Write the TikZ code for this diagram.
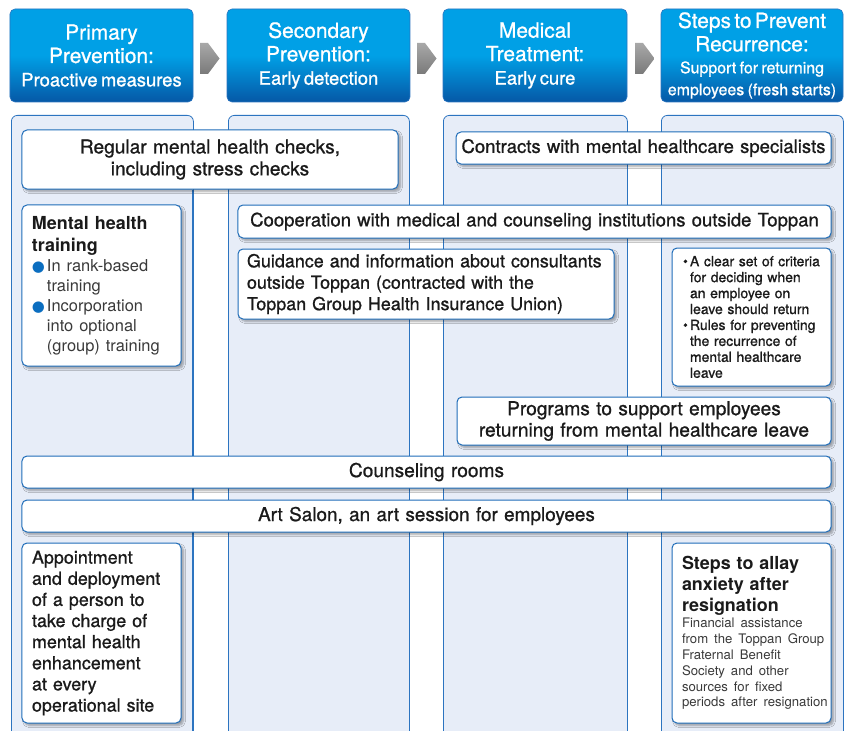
\documentclass[tikz,border=0pt]{standalone}
\usepackage{fontspec}
\setmainfont{TeX Gyre Heros}
\newfontfamily\med[FakeBold=0.9]{TeX Gyre Heros}
\newfontfamily\dejavu{DejaVu Sans}
\usetikzlibrary{shadows.blur}
\definecolor{colfill}{HTML}{E7EDF8}
\definecolor{colline}{HTML}{2C74C0}
\definecolor{boxline}{HTML}{1F6DB9}
\definecolor{txt}{HTML}{1A1A1A}
\definecolor{gtxt}{HTML}{3A3A3A}
\definecolor{bblue}{HTML}{0B6EC0}
\definecolor{hdrT}{HTML}{1A8AD6}
\definecolor{hdrM}{HTML}{00A0E6}
\definecolor{hdrB}{HTML}{0658A6}
\definecolor{arrA}{HTML}{7A7A7A}
\definecolor{arrB}{HTML}{A8A8A8}
\pgfdeclareverticalshading{hdrshade}{100bp}{color(0bp)=(hdrB); color(25bp)=(hdrB); color(50bp)=(hdrM); color(90bp)=(hdrM); color(100bp)=(hdrT)}
\newcommand{\bbul}{\makebox[15bp][l]{\dejavu\fontsize{15}{15}\selectfont\textcolor{bblue}{●}}}
\newcommand{\kbul}{\makebox[7bp][l]{•}}
\tikzset{
  colbody/.style={draw=colline, line width=0.8bp, fill=colfill, rounded corners=6bp, minimum height=640bp, anchor=north west, inner sep=0},
  hdr/.style={draw=colline, line width=0.6bp, rounded corners=5bp, shading=hdrshade, minimum height=93bp, inner sep=0, text=white, align=center},
  box/.style={draw=boxline, line width=1bp, fill=white, rounded corners=5bp,
    blur shadow={shadow xshift=2.5bp, shadow yshift=-2.5bp, shadow opacity=35, shadow blur steps=6},
    text=txt, inner sep=0, font=\med\fontsize{18}{22}\selectfont},
  cbox/.style={box, align=center},
  lbox/.style={box, align=left, inner xsep=10bp},
  blkarrow/.style={top color=arrB, bottom color=arrA}
}
\begin{document}
\begin{tikzpicture}[x=1bp,y=-1bp]
\useasboundingbox (0,0) rectangle (845,731);
\fill[white] (0,0) rectangle (845,731);

% column bodies
\node[colbody, minimum width=182bp] (c1) at (11,115) {};
\node[colbody, minimum width=181bp] (c2) at (228,115) {};
\node[colbody, minimum width=184bp] (c3) at (443,115) {};
\node[colbody, minimum width=182bp] (c4) at (661,115) {};
\draw[colline, line width=1.6bp] (192.6,190) -- (192.6,740);

% headers
\node[hdr, minimum width=183bp, text width=183bp] (h1) at (101.5,55.5)
  {\med\fontsize{21}{23.5}\selectfont Primary\\Prevention:\par\fontsize{18.5}{23.5}\selectfont Proactive measures\par};
\node[hdr, minimum width=183bp, text width=183bp] (h2) at (318.5,55.5)
  {\med\fontsize{21}{23.5}\selectfont Secondary\\Prevention:\par\fontsize{18.5}{23.5}\selectfont Early detection\par};
\node[hdr, minimum width=184bp, text width=184bp] (h3) at (535,55.5)
  {\med\fontsize{21}{23.5}\selectfont Medical\\Treatment:\par\fontsize{18.5}{23.5}\selectfont Early cure\par};
\node[hdr, minimum width=182bp, text width=182bp] (h4) at (752,55.5)
  {\med\fontsize{21}{23.5}\selectfont Steps to Prevent\\Recurrence:\par\fontsize{16}{22}\selectfont Support for returning\\employees (fresh starts)\par};

% block arrows between headers
\path[blkarrow] (200,43) -- (208,43) -- (219.5,58.5) -- (208,74) -- (200,74) -- cycle;
\path[blkarrow] (417,43) -- (425,43) -- (436.5,58.5) -- (425,74) -- (417,74) -- cycle;
\path[blkarrow] (635,43) -- (643,43) -- (654.5,58.5) -- (643,74) -- (635,74) -- cycle;

% boxes
\node[cbox, minimum width=376bp, minimum height=59bp, text width=376bp, font=\med\fontsize{19.2}{22}\selectfont] (b1) at (210,159.5)
  {Regular mental health checks,\\including stress checks};
\node[cbox, minimum width=375bp, minimum height=32bp, text width=375bp, font=\med\fontsize{18.6}{22}\selectfont] (b2) at (643.5,148)
  {Contracts with mental healthcare specialists};
\node[cbox, minimum width=593bp, minimum height=33bp, text width=593bp, font=\med\fontsize{18.6}{22}\selectfont] (b3) at (534.5,221.5)
  {Cooperation with medical and counseling institutions outside Toppan};
\node[lbox, inner xsep=9bp, minimum width=376bp, minimum height=70bp, text width=358bp, font=\med\fontsize{18}{21.5}\selectfont] (b4) at (426,284)
  {Guidance and information about consultants\\outside Toppan (contracted with the\\Toppan Group Health Insurance Union)};
\node[lbox, minimum width=159bp, minimum height=161bp, text width=139bp] (b5) at (101.5,285.5)
  {\rmfamily\bfseries\fontsize{18}{22}\selectfont Mental health\\training\par
   \mdseries\color{gtxt}\fontsize{16.5}{20}\selectfont
   \bbul In rank-based\\\hspace*{15bp}training\\
   \bbul Incorporation\\\hspace*{15bp}into optional\\\hspace*{15bp}(group) training\par};
\node[lbox, inner xsep=11bp, minimum width=159bp, minimum height=138bp, text width=137bp, font=\med\fontsize{14}{16}\selectfont] (b6) at (751.5,317)
  {\kbul A clear set of criteria\\\hspace*{7bp}for deciding when\\\hspace*{7bp}an employee on\\\hspace*{7bp}leave should return\\
   \kbul Rules for preventing\\\hspace*{7bp}the recurrence of\\\hspace*{7bp}mental healthcare\\\hspace*{7bp}leave};
\node[cbox, minimum width=374bp, minimum height=48bp, text width=374bp, font=\med\fontsize{19.2}{21.5}\selectfont] (b7) at (644,421)
  {Programs to support employees\\returning from mental healthcare leave};
\node[cbox, minimum width=809bp, minimum height=32bp, text width=809bp, font=\med\fontsize{19.2}{22}\selectfont] (b8) at (426.5,472)
  {Counseling rooms};
\node[cbox, minimum width=809bp, minimum height=32bp, text width=809bp, font=\med\fontsize{19}{22}\selectfont] (b9) at (426.5,516)
  {Art Salon, an art session for employees};
\node[lbox, minimum width=159bp, minimum height=180bp, text width=139bp, font=\med\fontsize{18}{21.2}\selectfont] (b10) at (101.5,633)
  {Appointment\\and deployment\\of a person to\\take charge of\\mental health\\enhancement\\at every\\operational site};
\node[lbox, inner xsep=0bp, minimum width=159bp, minimum height=180bp, text width=159bp] (b11) at (751.5,633)
  {\leftskip=10bp\rmfamily\bfseries\fontsize{18}{21}\selectfont Steps to allay\\anxiety after\\resignation\par
   \mdseries\color{gtxt}\fontsize{13.2}{16}\selectfont Financial assistance\\from the Toppan Group\\Fraternal Benefit\\Society and other\\sources for fixed\\periods after resignation\par};
\end{tikzpicture}
\end{document}
